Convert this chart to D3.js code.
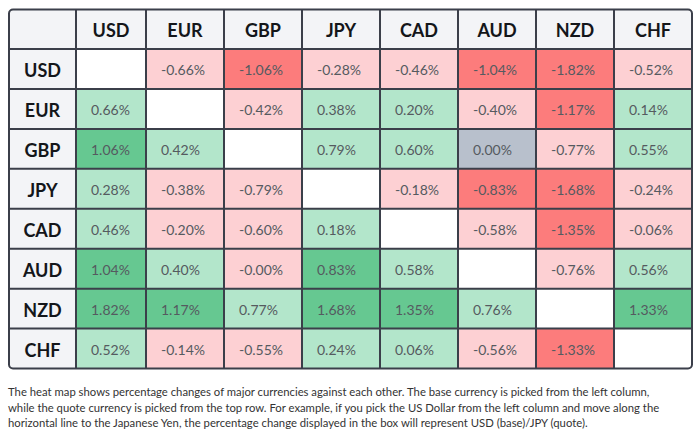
<!DOCTYPE html>
<html>
<head>
<meta charset="utf-8">
<script src="https://cdn.jsdelivr.net/npm/d3@7"></script>
<style>
  body { margin: 0; background: #fff; }
  svg { display: block; font-family: Lato, "Open Sans", sans-serif; }
</style>
</head>
<body>
<div id="svg-container"></div>
<script>
// currencies, base (rows) x quote (columns); null = diagonal
var currencies = ["USD", "EUR", "GBP", "JPY", "CAD", "AUD", "NZD", "CHF"];
var rowUSD = [null, -0.66, -1.06, -0.28, -0.46, -1.04, -1.82, -0.52];
var rowEUR = [0.66, null, -0.42, 0.38, 0.20, -0.40, -1.17, 0.14];
var rowGBP = [1.06, 0.42, null, 0.79, 0.60, 0.00, -0.77, 0.55];
var rowJPY = [0.28, -0.38, -0.79, null, -0.18, -0.83, -1.68, -0.24];
var rowCAD = [0.46, -0.20, -0.60, 0.18, null, -0.58, -1.35, -0.06];
var rowAUD = [1.04, 0.40, -0, 0.83, 0.58, null, -0.76, 0.56];
var rowNZD = [1.82, 1.17, 0.77, 1.68, 1.35, 0.76, null, 1.33];
var rowCHF = [0.52, -0.14, -0.55, 0.24, 0.06, -0.56, -1.33, null];
var noteLines = [
  "The heat map shows percentage changes of major currencies against each other. The base currency is picked from the left column,",
  "while the quote currency is picked from the top row. For example, if you pick the US Dollar from the left column and move along the",
  "horizontal line to the Japanese Yen, the percentage change displayed in the box will represent USD (base)/JPY (quote)."
];

(function () {
  var width = 698, height = 439;
  var rows = [rowUSD, rowEUR, rowGBP, rowJPY, rowCAD, rowAUD, rowNZD, rowCHF];
  var left = 9, labelW = 67, right = 692, top = 9.5, headH = 39.5, bottom = 368.5;
  var line = "#3b3f4a";

  var svg = d3.select("#svg-container")
    .append("svg")
    .attr("width", width)
    .attr("height", height)
    .attr("viewBox", "0 0 " + width + " " + height);

  // first column is narrower than the rest, so let the band start under the label column
  var x = d3.scaleBand().domain(currencies).range([left + labelW - 8, right]);
  var y = d3.scaleBand().domain(currencies).range([top + headH, bottom]);
  var colX = function (c) { return Math.max(x(c), left + labelW); };
  var colW = function (c) { return x(c) + x.bandwidth() - colX(c); };

  function fill(v) {
    if (v === null) return "#ffffff";
    if (v === 0 && !Object.is(v, -0)) return "#b8c0cc";
    if (v < 0 || Object.is(v, -0)) return Math.abs(v) >= 0.8 ? "#fc7c7c" : "#fdd0d3";
    return v >= 0.8 ? "#66c891" : "#b3e6cb";
  }

  function fmt(v) {
    return (Object.is(v, -0) ? "-" : "") + v.toFixed(2) + "%";
  }

  var cells = [];
  rows.forEach(function (r, i) {
    r.forEach(function (v, j) {
      cells.push({base: currencies[i], quote: currencies[j], v: v});
    });
  });

  var clip = svg.append("defs").append("clipPath").attr("id", "tbl")
    .append("rect")
    .attr("x", left).attr("y", top)
    .attr("width", right - left).attr("height", bottom - top)
    .attr("rx", 4);

  var g = svg.append("g").attr("clip-path", "url(#tbl)");

  // header row and label column
  g.append("rect")
    .attr("x", left).attr("y", top)
    .attr("width", right - left).attr("height", headH)
    .attr("fill", "#f3f4f7");
  g.append("rect")
    .attr("x", left).attr("y", top)
    .attr("width", labelW).attr("height", bottom - top)
    .attr("fill", "#f3f4f7");

  g.selectAll(".cell")
    .data(cells)
    .enter()
    .append("rect")
    .attr("class", "cell")
    .attr("x", function (d) { return colX(d.quote); })
    .attr("y", function (d) { return y(d.base); })
    .attr("width", function (d) { return colW(d.quote); })
    .attr("height", y.bandwidth())
    .attr("fill", function (d) { return fill(d.v); });

  // grid lines
  var vx = [left + labelW].concat(currencies.slice(1).map(colX));
  g.selectAll(".vline")
    .data(vx)
    .enter()
    .append("line")
    .attr("x1", function (d) { return d; }).attr("x2", function (d) { return d; })
    .attr("y1", top).attr("y2", bottom)
    .style("stroke", line).style("stroke-width", 2);
  var hy = currencies.map(function (c) { return y(c); });
  g.selectAll(".hline")
    .data(hy)
    .enter()
    .append("line")
    .attr("x1", left).attr("x2", right)
    .attr("y1", function (d) { return d; }).attr("y2", function (d) { return d; })
    .style("stroke", line).style("stroke-width", 2);

  svg.append("rect")
    .attr("x", left).attr("y", top)
    .attr("width", right - left).attr("height", bottom - top)
    .attr("rx", 4)
    .attr("fill", "none")
    .style("stroke", line).style("stroke-width", 2);

  svg.selectAll(".colHead")
    .data(currencies)
    .enter()
    .append("text")
    .attr("x", function (d) { return colX(d) + colW(d) / 2; })
    .attr("y", top + headH / 2 + 1)
    .attr("text-anchor", "middle")
    .attr("dominant-baseline", "central")
    .style("font-size", "18px").style("font-weight", 700).style("fill", "#14161a")
    .text(function (d) { return d; });

  svg.selectAll(".rowHead")
    .data(currencies)
    .enter()
    .append("text")
    .attr("x", left + labelW / 2)
    .attr("y", function (d) { return y(d) + y.bandwidth() / 2 + 1; })
    .attr("text-anchor", "middle")
    .attr("dominant-baseline", "central")
    .style("font-size", "18px").style("font-weight", 700).style("fill", "#14161a")
    .text(function (d) { return d; });

  svg.selectAll(".val")
    .data(cells.filter(function (d) { return d.v !== null; }))
    .enter()
    .append("text")
    .attr("x", function (d) { return colX(d.quote) + 15; })
    .attr("y", function (d) { return y(d.base) + y.bandwidth() / 2 + 1; })
    .attr("dominant-baseline", "central")
    .style("font-size", "14px").style("fill", "#555a60")
    .text(function (d) { return fmt(d.v); });

  svg.selectAll(".note")
    .data(noteLines)
    .enter()
    .append("text")
    .attr("x", 8)
    .attr("y", function (d, i) { return 396 + i * 15.7; })
    .style("font-size", "11.3px").style("fill", "#333")
    .text(function (d) { return d; });
}());
</script>
</body>
</html>
